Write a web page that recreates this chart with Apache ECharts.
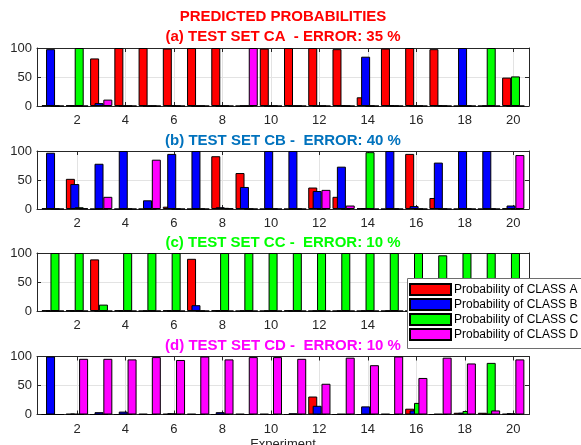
<!DOCTYPE html>
<html>
<head>
<meta charset="utf-8">
<script src="https://cdn.jsdelivr.net/npm/echarts@6/dist/echarts.min.js"></script>
<style>
  html, body { margin: 0; padding: 0; background: #fff; }
  #chart { width: 581px; height: 445px; }
</style>
</head>
<body>
<div id="chart"></div>
<script>
// Experiment numbers and axis ticks
const experiments = [1, 2, 3, 4, 5, 6, 7, 8, 9, 10, 11, 12, 13, 14, 15, 16, 17, 18, 19, 20];
const xTickValues = [2, 4, 6, 8, 10, 12, 14, 16, 18, 20];
const yTickValues = [0, 50, 100];

const classNames = ['Probability of CLASS A', 'Probability of CLASS B', 'Probability of CLASS C', 'Probability of CLASS D'];

const mainTitle = 'PREDICTED PROBABILITIES';
const panelTitles = [
  '(a) TEST SET CA  - ERROR: 35 %',
  '(b) TEST SET CB -  ERROR: 40 %',
  '(c) TEST SET CC -  ERROR: 10 %',
  '(d) TEST SET CD -  ERROR: 10 %'
];

// (a) test set CA
const caA = [1, 1, 82, 100, 100, 99, 100, 100, 0, 99, 100, 100, 98, 15, 99, 100, 98, 0, 0, 49];
const caB = [98, 0, 5, 0, 0, 1, 0, 0, 0, 0, 0, 0, 1, 85, 1, 0, 1, 100, 0, 0];
const caC = [0, 100, 2, 0, 0, 0, 0, 0, 0, 0, 0, 0, 0, 0, 0, 0, 0, 0, 100, 51];
const caD = [0, 0, 11, 0, 0, 0, 0, 0, 100, 0, 0, 0, 0, 0, 0, 0, 0, 0, 0, 0];

// (b) test set CB
const cbA = [1, 52, 0, 0, 0, 4, 0, 91, 62, 0, 0, 37, 21, 1, 0, 95, 19, 0, 0, 1];
const cbB = [97, 43, 78, 100, 15, 95, 100, 3, 38, 100, 100, 31, 73, 1, 100, 5, 80, 100, 100, 6];
const cbC = [0, 3, 0, 0, 0, 0, 0, 2, 0, 0, 0, 0, 0, 98, 0, 0, 0, 0, 0, 0];
const cbD = [0, 1, 21, 0, 85, 0, 0, 1, 0, 0, 0, 33, 6, 0, 0, 0, 0, 0, 0, 93];

// (c) test set CC
const ccA = [1, 1, 89, 1, 0, 1, 90, 1, 0, 0, 1, 0, 0, 0, 0, 0, 3, 0, 0, 0];
const ccB = [0, 0, 0, 0, 0, 0, 10, 0, 0, 0, 0, 0, 0, 0, 0, 0, 0, 0, 0, 0];
const ccC = [100, 100, 11, 100, 100, 100, 0, 100, 100, 100, 100, 100, 100, 100, 100, 100, 96, 100, 100, 100];
const ccD = [0, 0, 0, 0, 0, 0, 0, 0, 0, 0, 0, 0, 0, 0, 0, 0, 0, 0, 0, 0];

// (d) test set CD
const cdA = [0, 1, 0, 0, 1, 1, 1, 0, 1, 1, 0, 31, 0, 0, 1, 10, 0, 3, 3, 1];
const cdB = [100, 1, 4, 5, 0, 2, 0, 4, 0, 0, 2, 15, 1, 14, 0, 7, 1, 3, 0, 2];
const cdC = [0, 0, 0, 0, 0, 0, 0, 0, 0, 0, 0, 0, 0, 0, 0, 20, 0, 6, 89, 0];
const cdD = [0, 96, 96, 95, 99, 94, 100, 95, 99, 99, 96, 53, 98, 85, 100, 63, 98, 88, 7, 95];

const panels = [
  [caA, caB, caC, caD],
  [cbA, cbB, cbC, cbD],
  [ccA, ccB, ccC, ccD],
  [cdA, cdB, cdC, cdD]
];

// Styling
const FONT = '"Liberation Sans", Arial, Helvetica, sans-serif';
const barColors = ['#ff0000', '#0000ff', '#00ff00', '#ff00ff'];
const titleColors = ['#ff0000', '#0072bd', '#00ff00', '#ff00ff'];
const axisColor = '#262626';
const gridColor = '#e3e3e3';
const plotLeft = 37;
const plotRight = 52;
const plotHeight = 58;
const plotTops = [48, 151, 253, 356.5];
const titleYs = [37, 141, 243, 346];
const plotCenterX = plotLeft + (581 - plotLeft - plotRight) / 2;

const grids = [];
const xAxes = [];
const yAxes = [];
const series = [];

panels.forEach((values, p) => {
  grids.push({
    left: plotLeft, right: plotRight, top: plotTops[p], height: plotHeight,
    containLabel: false, outerBoundsMode: 'none'
  });

  // bottom axis with labels
  xAxes.push({
    gridIndex: p,
    type: 'value',
    position: 'bottom',
    min: 0.35,
    max: 20.65,
    axisLine: { show: true, onZero: false, lineStyle: { color: axisColor, width: 1 } },
    axisTick: { show: true, inside: true, length: 4, customValues: xTickValues, lineStyle: { color: axisColor } },
    axisLabel: { show: true, customValues: xTickValues, fontSize: 13, color: axisColor, fontFamily: FONT, margin: 8 },
    splitLine: { show: true, lineStyle: { color: gridColor, width: 1 } },
    name: p === 3 ? 'Experiment' : '',
    nameLocation: 'middle',
    nameGap: 23,
    nameTextStyle: { fontSize: 13, color: axisColor, fontFamily: FONT }
  });
  // top axis: box edge and mirrored ticks
  xAxes.push({
    gridIndex: p,
    type: 'value',
    position: 'top',
    min: 0.35,
    max: 20.65,
    axisLine: { show: true, onZero: false, lineStyle: { color: axisColor, width: 1 } },
    axisTick: { show: true, inside: true, length: 4, customValues: xTickValues, lineStyle: { color: axisColor } },
    axisLabel: { show: false },
    splitLine: { show: false }
  });

  yAxes.push({
    gridIndex: p,
    type: 'value',
    position: 'left',
    min: 0,
    max: 100,
    interval: 50,
    axisLine: { show: true, onZero: false, lineStyle: { color: axisColor, width: 1 } },
    axisTick: { show: true, inside: true, length: 4, lineStyle: { color: axisColor } },
    axisLabel: { show: true, fontSize: 13, color: axisColor, fontFamily: FONT, margin: 5 },
    splitLine: { show: true, lineStyle: { color: gridColor, width: 1 } }
  });
  yAxes.push({
    gridIndex: p,
    type: 'value',
    position: 'right',
    min: 0,
    max: 100,
    interval: 50,
    axisLine: { show: true, onZero: false, lineStyle: { color: axisColor, width: 1 } },
    axisTick: { show: true, inside: true, length: 4, lineStyle: { color: axisColor } },
    axisLabel: { show: false },
    splitLine: { show: false }
  });

  values.forEach((vals, c) => {
    series.push({
      type: 'bar',
      name: classNames[c],
      xAxisIndex: p * 2,
      yAxisIndex: p * 2,
      data: experiments.map((x, i) => [x, vals[i]]),
      barWidth: 9,
      barGap: '-51%',
      itemStyle: { color: barColors[c], borderColor: '#000', borderWidth: 1 },
      emphasis: { disabled: true }
    });
  });
});

const graphics = [{
  // legend frame, running past the right edge of the canvas
  type: 'rect', z: 19,
  shape: { x: 407.5, y: 278.5, width: 200, height: 70 },
  style: { fill: '#ffffff', stroke: '#6e6e6e', lineWidth: 1 }
}, {
  type: 'text', x: plotCenterX, y: 17, z: 10,
  style: { text: mainTitle, fill: '#ff0000', font: 'bold 15px ' + FONT, align: 'center', verticalAlign: 'middle' }
}].concat(panelTitles.map((t, p) => ({
  type: 'text', x: plotCenterX, y: titleYs[p], z: 10,
  style: { text: t, fill: titleColors[p], font: 'bold 15px ' + FONT, align: 'center', verticalAlign: 'middle' }
})));

const chart = echarts.init(document.getElementById('chart'), null, { renderer: 'canvas' });
chart.setOption({
  animation: false,
  backgroundColor: '#ffffff',
  grid: grids,
  xAxis: xAxes,
  yAxis: yAxes,
  series: series,
  legend: {
    data: classNames,
    orient: 'vertical',
    left: 407,
    top: 278,
    itemWidth: 41,
    itemHeight: 11,
    itemGap: 2,
    padding: [5, 0, 9, 2],
    icon: 'rect',
    selectedMode: false,
    textStyle: { fontSize: 12, color: '#000', fontFamily: FONT, padding: [0, 0, 0, -2] },
    z: 20
  },
  graphic: graphics
});
</script>
</body>
</html>
